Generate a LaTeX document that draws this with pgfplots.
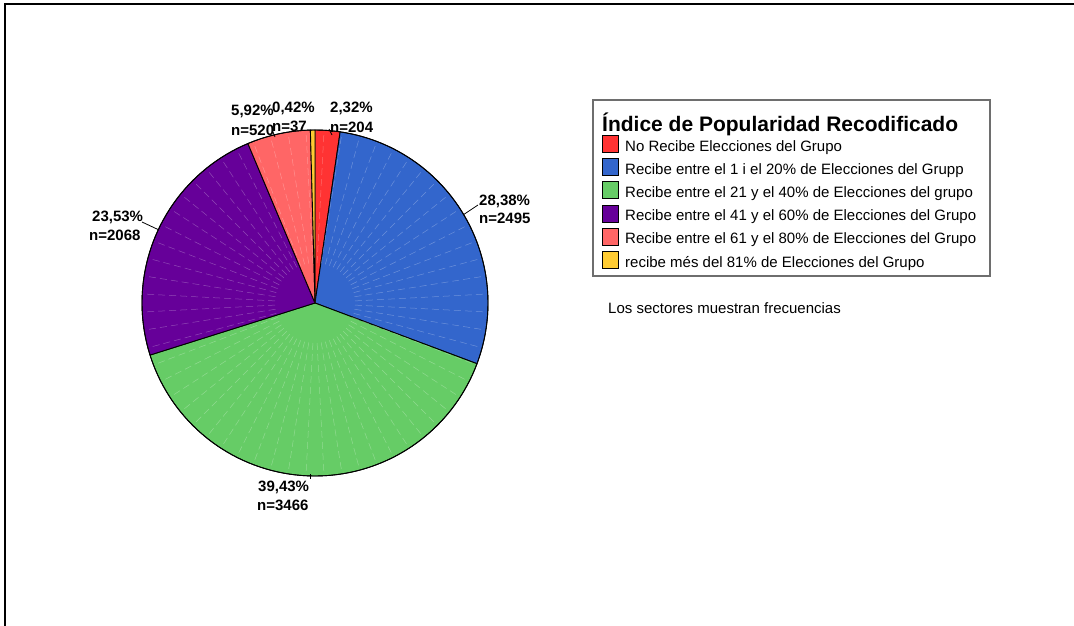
\documentclass[border=0pt]{standalone}
\usepackage{fontspec}
\setmainfont{Liberation Sans}
\usepackage{pgfplots}
\usepackage{pgfplotstable}
\pgfplotsset{compat=1.18}
\definecolor{cRed}{RGB}{255,51,51}
\definecolor{cBlue}{RGB}{51,102,204}
\definecolor{cGreen}{RGB}{102,204,102}
\definecolor{cPurple}{RGB}{102,0,153}
\definecolor{cSalmon}{RGB}{255,102,102}
\definecolor{cYellow}{RGB}{255,204,51}
\definecolor{cFrame}{RGB}{110,110,110}

% frequencies of the six categories (clockwise from 12 o'clock)
\pgfplotstableread{
n
204
2495
3466
2068
520
37
}\piedata

\tikzset{lab/.style={anchor=base west, inner sep=0pt, font=\fontsize{15}{18}\selectfont\bfseries},
         sw/.style={draw=black, line width=0.9pt},
         ent/.style={anchor=base west, inner sep=0pt, font=\fontsize{15}{18}\selectfont}}

\pgfplotstablegetelem{0}{n}\of\piedata \let\nA\pgfplotsretval
\pgfplotstablegetelem{1}{n}\of\piedata \let\nB\pgfplotsretval
\pgfplotstablegetelem{2}{n}\of\piedata \let\nC\pgfplotsretval
\pgfplotstablegetelem{3}{n}\of\piedata \let\nD\pgfplotsretval
\pgfplotstablegetelem{4}{n}\of\piedata \let\nE\pgfplotsretval
\pgfplotstablegetelem{5}{n}\of\piedata \let\nF\pgfplotsretval
\pgfmathsetmacro\tot{\nA+\nB+\nC+\nD+\nE+\nF}
\pgfmathsetmacro\aA{90}
\pgfmathsetmacro\aB{\aA-360*(\nA/\tot)}
\pgfmathsetmacro\aC{\aB-360*(\nB/\tot)}
\pgfmathsetmacro\aD{\aC-360*(\nC/\tot)}
\pgfmathsetmacro\aE{\aD-360*(\nD/\tot)}
\pgfmathsetmacro\aF{\aE-360*(\nE/\tot)}
\pgfmathsetmacro\aG{-270}
\def\cx{315}\def\cy{303}\def\rad{173}

\begin{document}%
\begin{tikzpicture}
\begin{axis}[
  scale only axis, width=1074pt, height=626pt,
  xmin=0, xmax=1074, ymin=0, ymax=626, y dir=reverse,
  hide axis, clip=false,
  every axis plot/.append style={draw=black, line width=0.9pt, line join=round},
]
\coordinate (bbSW) at (axis cs:0,626);
\coordinate (bbNE) at (axis cs:1074,0);
\addplot[fill=cRed, domain=\aB:\aA, samples=20, variable=\t]
  ({\cx+\rad*cos(\t)},{\cy-\rad*sin(\t)}) -- (axis cs:\cx,\cy) -- cycle;
\addplot[fill=cBlue, domain=\aC:\aB, samples=80, variable=\t]
  ({\cx+\rad*cos(\t)},{\cy-\rad*sin(\t)}) -- (axis cs:\cx,\cy) -- cycle;
\addplot[fill=cGreen, domain=\aD:\aC, samples=100, variable=\t]
  ({\cx+\rad*cos(\t)},{\cy-\rad*sin(\t)}) -- (axis cs:\cx,\cy) -- cycle;
\addplot[fill=cPurple, domain=\aE:\aD, samples=70, variable=\t]
  ({\cx+\rad*cos(\t)},{\cy-\rad*sin(\t)}) -- (axis cs:\cx,\cy) -- cycle;
\addplot[fill=cSalmon, domain=\aF:\aE, samples=25, variable=\t]
  ({\cx+\rad*cos(\t)},{\cy-\rad*sin(\t)}) -- (axis cs:\cx,\cy) -- cycle;
\addplot[fill=cYellow, domain=\aG:\aF, samples=5, variable=\t]
  ({\cx+\rad*cos(\t)},{\cy-\rad*sin(\t)}) -- (axis cs:\cx,\cy) -- cycle;

% faint radial texture
\pgfplotsinvokeforeach{3,9,...,357}{
  \draw[white, opacity=0.28, line width=0.5pt, dash pattern=on 7pt off 4pt]
    (axis cs:{315+40*cos(#1)},{303-40*sin(#1)}) -- (axis cs:{315+172*cos(#1)},{303-172*sin(#1)});
}
% outline on top
\addplot[fill=none, domain=0:360, samples=180, variable=\t]
  ({\cx+\rad*cos(\t)},{\cy-\rad*sin(\t)});

% frame
\draw[black, line width=2pt] (axis cs:5,626) -- (axis cs:5,4) -- (axis cs:1074,4);

% leader lines
\draw[black, line width=0.8pt] (axis cs:463,215) -- (axis cs:478,205);
\draw[black, line width=0.8pt] (axis cs:142,222) -- (axis cs:158,229.5);
\draw[black, line width=0.8pt] (axis cs:329,129) -- (axis cs:332,135);
\draw[black, line width=0.8pt] (axis cs:273,132) -- (axis cs:275,137);
\draw[black, line width=0.8pt] (axis cs:310,474) -- (axis cs:310,479);

% slice labels
\node[lab] at (axis cs:231,115) {5,92\%};
\node[lab] at (axis cs:231,135) {n=520};
\node[lab] at (axis cs:272,112) {0,42\%};
\node[lab] at (axis cs:272,131) {n=37};
\node[lab] at (axis cs:330,113) {2,32\%};
\node[lab] at (axis cs:330,132) {n=204};
\node[lab] at (axis cs:479,205) {28,38\%};
\node[lab] at (axis cs:479,223) {n=2495};
\node[lab] at (axis cs:92,221) {23,53\%};
\node[lab] at (axis cs:89,240) {n=2068};
\node[lab] at (axis cs:258,491) {39,43\%};
\node[lab] at (axis cs:257,510) {n=3466};

% legend
\draw[cFrame, line width=1.3pt] (axis cs:593,100) rectangle (axis cs:990,276);
\node[anchor=base west, inner sep=0pt, font=\fontsize{21}{24}\selectfont\bfseries]
  at (axis cs:602,131) {Índice de Popularidad Recodificado};
\draw[sw, fill=cRed]    (axis cs:602,135.5) rectangle (axis cs:618,152.5);
\node[ent] at (axis cs:625,151) {No Recibe Elecciones del Grupo};
\draw[sw, fill=cBlue]   (axis cs:602,158.7) rectangle (axis cs:618,175.7);
\node[ent] at (axis cs:625,174.2) {Recibe entre el 1 i el 20\% de Elecciones del Grupp};
\draw[sw, fill=cGreen]  (axis cs:602,181.9) rectangle (axis cs:618,198.9);
\node[ent] at (axis cs:625,197.4) {Recibe entre el 21 y el 40\% de Elecciones del grupo};
\draw[sw, fill=cPurple] (axis cs:602,205.1) rectangle (axis cs:618,222.1);
\node[ent] at (axis cs:625,220.6) {Recibe entre el 41 y el 60\% de Elecciones del Grupo};
\draw[sw, fill=cSalmon] (axis cs:602,228.3) rectangle (axis cs:618,245.3);
\node[ent] at (axis cs:625,243.8) {Recibe entre el 61 y el 80\% de Elecciones del Grupo};
\draw[sw, fill=cYellow] (axis cs:602,251.5) rectangle (axis cs:618,268.5);
\node[ent] at (axis cs:625,267) {recibe més del 81\% de Elecciones del Grupo};

\node[ent] at (axis cs:608,313) {Los sectores muestran frecuencias};
\end{axis}
\pgfresetboundingbox
\useasboundingbox (bbSW) rectangle (bbNE);
\end{tikzpicture}%
\end{document}
